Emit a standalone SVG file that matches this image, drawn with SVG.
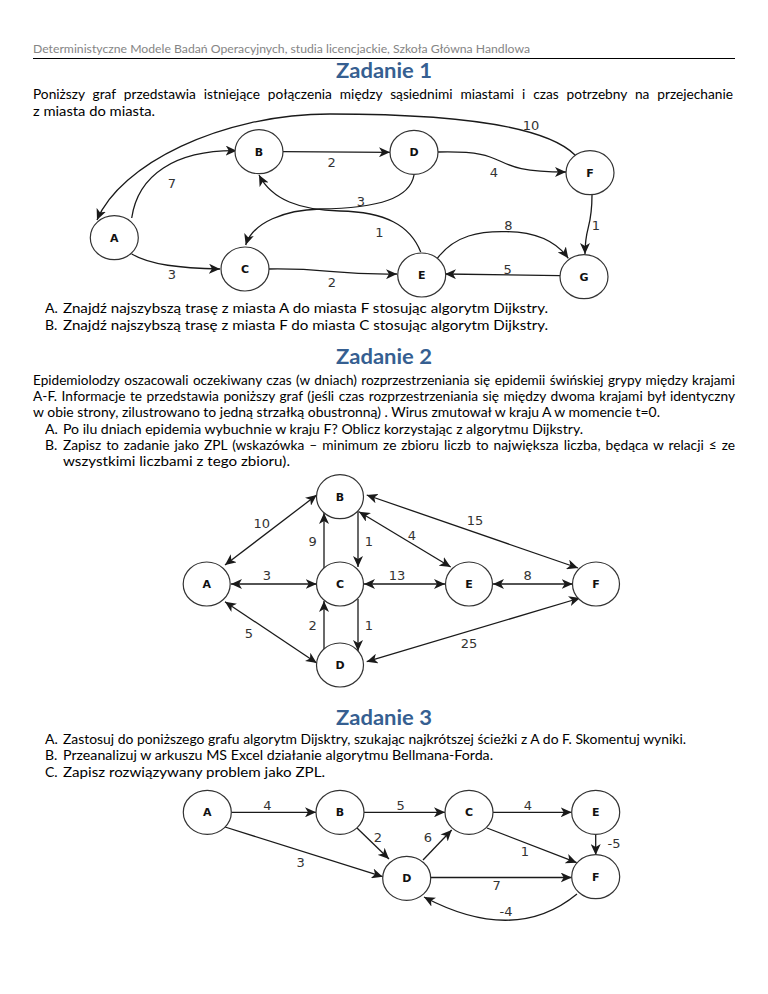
<svg xmlns="http://www.w3.org/2000/svg" width="768" height="994" viewBox="0 0 768 994">
<style>
.t{font-family:Lato,"Open Sans","Liberation Sans",sans-serif;font-size:14px;fill:#000}
.hd{font-family:Lato,"Open Sans","Liberation Sans",sans-serif;font-size:12px;fill:#858585}
.h{font-family:Lato,"Open Sans","Liberation Sans",sans-serif;font-weight:bold;font-size:20px;fill:#365F91;text-anchor:middle}
.n{fill:#fff;stroke:#333;stroke-width:1.2}
.nl{font-family:"DejaVu Sans",Verdana,sans-serif;font-weight:bold;font-size:11px;text-anchor:middle;fill:#111}
.el{font-family:"DejaVu Sans",Verdana,sans-serif;font-size:13px;fill:#333;text-anchor:middle}
.e{fill:none;stroke:#1a1a1a;stroke-width:1.3;marker-end:url(#ah)}
.b{marker-start:url(#ah)}
</style>
<defs>
<marker id="ah" viewBox="0 0 11 10" refX="11" refY="5" markerWidth="11" markerHeight="10" markerUnits="userSpaceOnUse" orient="auto-start-reverse">
<path d="M0,0 L11,5 L0,10 L3,5 Z" fill="#1a1a1a"/>
</marker>
</defs>
<rect width="768" height="994" fill="#fff"/>

<!-- header -->
<text class="hd" x="33" y="53" textLength="497" lengthAdjust="spacingAndGlyphs">Deterministyczne Modele Badań Operacyjnych, studia licencjackie, Szkoła Główna Handlowa</text>
<line x1="33" y1="58.5" x2="735" y2="58.5" stroke="#000" stroke-width="1.2"/>

<!-- Zadanie 1 -->
<text class="h" x="384" y="78" textLength="96" lengthAdjust="spacingAndGlyphs">Zadanie 1</text>
<text class="t" x="33" y="99" word-spacing="4.5" textLength="700" lengthAdjust="spacingAndGlyphs">Poniższy graf przedstawia istniejące połączenia między sąsiednimi miastami i czas potrzebny na przejechanie</text>
<text class="t" x="33" y="115.5" textLength="122" lengthAdjust="spacingAndGlyphs">z miasta do miasta.</text>

<g id="g1-edges">
<path class="e" d="M575,155 C545,125 450,114 330,114 C220,114 120,165 97,220"/>
<path class="e" d="M131.7,218 C138,175 175,150 236.7,150.7"/>
<path class="e" d="M420.7,252 C410,225 385,212 340,211 C300,210 272,200 259,175"/>
<path class="e" d="M414,175 C410,198 380,208 320,209 C285,210 253,222 245.7,245"/>
<path class="e" d="M131.7,254 C150,265 180,268 220,269"/>
<path class="e" d="M283,151.7 L390,152.3"/>
<path class="e" d="M269,269 C330,268 330,275 397,274"/>
<path class="e" d="M438,152 C520,150 480,172 566,172"/>
<path class="e" d="M592,195 C592,230 585,225 585,254"/>
<path class="e" d="M437.3,258.3 C455,235 480,231 506.7,231.7 C535,232 555,240 568.3,258.3"/>
<path class="e" d="M560,275.7 L445,274"/>
<text class="el" x="531" y="129.5">10</text>
<text class="el" x="331.7" y="166.5">2</text>
<text class="el" x="494" y="177">4</text>
<text class="el" x="172" y="187.5">7</text>
<text class="el" x="361" y="205.5">3</text>
<text class="el" x="379.3" y="236.5">1</text>
<text class="el" x="508.3" y="230">8</text>
<text class="el" x="596" y="230">1</text>
<text class="el" x="172" y="279">3</text>
<text class="el" x="332" y="286.5">2</text>
<text class="el" x="507.7" y="274">5</text>
</g>
<g id="g1-A"><ellipse class="n" cx="114.3" cy="237.7" rx="24" ry="22"/><text class="nl" x="114.3" y="241.7">A</text></g>
<g id="g1-B"><ellipse class="n" cx="259" cy="151.7" rx="24" ry="22"/><text class="nl" x="259" y="155.7">B</text></g>
<g id="g1-C"><ellipse class="n" cx="245" cy="269" rx="24" ry="22"/><text class="nl" x="245" y="273">C</text></g>
<g id="g1-D"><ellipse class="n" cx="414" cy="152.3" rx="24" ry="22"/><text class="nl" x="414" y="156.3">D</text></g>
<g id="g1-E"><ellipse class="n" cx="421.7" cy="275" rx="24" ry="22"/><text class="nl" x="421.7" y="279">E</text></g>
<g id="g1-F"><ellipse class="n" cx="590" cy="172.7" rx="24" ry="22"/><text class="nl" x="590" y="176.7">F</text></g>
<g id="g1-G"><ellipse class="n" cx="584" cy="276.7" rx="24" ry="22"/><text class="nl" x="584" y="280.7">G</text></g>

<text class="t" x="45" y="313">A.</text>
<text class="t" x="63" y="313" textLength="485" lengthAdjust="spacingAndGlyphs">Znajdź najszybszą trasę z miasta A do miasta F stosując algorytm Dijkstry.</text>
<text class="t" x="45" y="329.5">B.</text>
<text class="t" x="63" y="329.5" textLength="485" lengthAdjust="spacingAndGlyphs">Znajdź najszybszą trasę z miasta F do miasta C stosując algorytm Dijkstry.</text>

<!-- Zadanie 2 -->
<text class="h" x="384" y="364" textLength="96" lengthAdjust="spacingAndGlyphs">Zadanie 2</text>
<text class="t" x="33" y="384.5" word-spacing="1" textLength="702" lengthAdjust="spacingAndGlyphs">Epidemiolodzy oszacowali oczekiwany czas (w dniach) rozprzestrzeniania się epidemii świńskiej grypy między krajami</text>
<text class="t" x="33" y="401" word-spacing="1" textLength="702" lengthAdjust="spacingAndGlyphs">A-F. Informacje te przedstawia poniższy graf (jeśli czas rozprzestrzeniania się między dwoma krajami był identyczny</text>
<text class="t" x="33" y="417.3" textLength="627" lengthAdjust="spacingAndGlyphs">w obie strony, zilustrowano to jedną strzałką obustronną) . Wirus zmutował w kraju A w momencie t=0.</text>
<text class="t" x="45" y="433.6">A.</text>
<text class="t" x="63" y="433.6" textLength="520" lengthAdjust="spacingAndGlyphs">Po ilu dniach epidemia wybuchnie w kraju F? Oblicz korzystając z algorytmu Dijkstry.</text>
<text class="t" x="45" y="450">B.</text>
<text class="t" x="63" y="450" word-spacing="1.5" textLength="672" lengthAdjust="spacingAndGlyphs">Zapisz to zadanie jako ZPL (wskazówka – minimum ze zbioru liczb to największa liczba, będąca w relacji ≤ ze</text>
<text class="t" x="63" y="466.3" textLength="227" lengthAdjust="spacingAndGlyphs">wszystkimi liczbami z tego zbioru).</text>

<g id="g2-edges">
<path class="e b" d="M225,565 L316.7,495"/>
<path class="e b" d="M366.7,495 L578,568"/>
<path class="e b" d="M359,511.7 L450.7,567"/>
<path class="e b" d="M231,584 L316.7,584"/>
<path class="e b" d="M364,584 L445,584"/>
<path class="e b" d="M493,584 L572.7,584"/>
<path class="e b" d="M225,601.7 L316.7,663"/>
<path class="e b" d="M366.7,661.7 L580,598"/>
<path class="e" d="M324,568 L324,513"/>
<path class="e" d="M358,511 L358,567"/>
<path class="e" d="M324,649 L324,601"/>
<path class="e" d="M358,599 L358,651"/>
<text class="el" x="261.7" y="527.5">10</text>
<text class="el" x="475" y="524.5">15</text>
<text class="el" x="312.7" y="545.5">9</text>
<text class="el" x="369" y="545.5">1</text>
<text class="el" x="412" y="540">4</text>
<text class="el" x="267" y="579.5">3</text>
<text class="el" x="397" y="579.5">13</text>
<text class="el" x="527.7" y="579.5">8</text>
<text class="el" x="312.7" y="630">2</text>
<text class="el" x="369" y="630">1</text>
<text class="el" x="249" y="637.5">5</text>
<text class="el" x="469" y="647.5">25</text>
</g>
<g id="g2-A"><ellipse class="n" cx="206.7" cy="584" rx="23.5" ry="22"/><text class="nl" x="206.7" y="588">A</text></g>
<g id="g2-B"><ellipse class="n" cx="340" cy="496.7" rx="23.5" ry="22"/><text class="nl" x="340" y="500.7">B</text></g>
<g id="g2-C"><ellipse class="n" cx="340" cy="584" rx="23.5" ry="22"/><text class="nl" x="340" y="588">C</text></g>
<g id="g2-D"><ellipse class="n" cx="340" cy="665" rx="23.5" ry="22"/><text class="nl" x="340" y="669">D</text></g>
<g id="g2-E"><ellipse class="n" cx="469" cy="584" rx="23.5" ry="22"/><text class="nl" x="469" y="588">E</text></g>
<g id="g2-F"><ellipse class="n" cx="596" cy="584" rx="23.5" ry="22"/><text class="nl" x="596" y="588">F</text></g>

<!-- Zadanie 3 -->
<text class="h" x="384" y="725" textLength="96" lengthAdjust="spacingAndGlyphs">Zadanie 3</text>
<text class="t" x="45" y="744">A.</text>
<text class="t" x="63" y="744" textLength="623" lengthAdjust="spacingAndGlyphs">Zastosuj do poniższego grafu algorytm Dijsktry, szukając najkrótszej ścieżki z A do F. Skomentuj wyniki.</text>
<text class="t" x="45" y="760.4">B.</text>
<text class="t" x="63" y="760.4" textLength="430" lengthAdjust="spacingAndGlyphs">Przeanalizuj w arkuszu MS Excel działanie algorytmu Bellmana-Forda.</text>
<text class="t" x="45" y="776.7">C.</text>
<text class="t" x="63" y="776.7" textLength="262" lengthAdjust="spacingAndGlyphs">Zapisz rozwiązywany problem jako ZPL.</text>

<g id="g3-edges">
<path class="e" d="M231.5,812.3 L316,812.3"/>
<path class="e" d="M364,812.3 L445,812.3"/>
<path class="e" d="M493,812.3 L571.7,812.3"/>
<path class="e" d="M225,827 L382.7,876.7"/>
<path class="e" d="M357,828 L389,859"/>
<path class="e" d="M423,860 L451.7,830"/>
<path class="e" d="M487,828 L576.7,862.7"/>
<path class="e" d="M595.7,834.3 L595.7,855"/>
<path class="e" d="M430.7,877.5 L571.7,877.5"/>
<path class="e" d="M577,894 Q515,945 424,897"/>
<text class="el" x="267.3" y="809.5">4</text>
<text class="el" x="400.7" y="809.5">5</text>
<text class="el" x="528" y="809.5">4</text>
<text class="el" x="378" y="841.5">2</text>
<text class="el" x="428" y="841.5">6</text>
<text class="el" x="525" y="856">1</text>
<text class="el" x="614" y="847.5">-5</text>
<text class="el" x="300.7" y="866.5">3</text>
<text class="el" x="496.7" y="889.5">7</text>
<text class="el" x="506" y="916">-4</text>
</g>
<g id="g3-A"><ellipse class="n" cx="207.3" cy="812.3" rx="24" ry="22"/><text class="nl" x="207.3" y="816.3">A</text></g>
<g id="g3-B"><ellipse class="n" cx="340" cy="812.3" rx="24" ry="22"/><text class="nl" x="340" y="816.3">B</text></g>
<g id="g3-C"><ellipse class="n" cx="469" cy="812.3" rx="24" ry="22"/><text class="nl" x="469" y="816.3">C</text></g>
<g id="g3-E"><ellipse class="n" cx="595.7" cy="812.3" rx="24" ry="22"/><text class="nl" x="595.7" y="816.3">E</text></g>
<g id="g3-D"><ellipse class="n" cx="406.7" cy="878.3" rx="24" ry="22"/><text class="nl" x="406.7" y="882.3">D</text></g>
<g id="g3-F"><ellipse class="n" cx="595.7" cy="876.7" rx="24" ry="22"/><text class="nl" x="595.7" y="880.7">F</text></g>
</svg>
